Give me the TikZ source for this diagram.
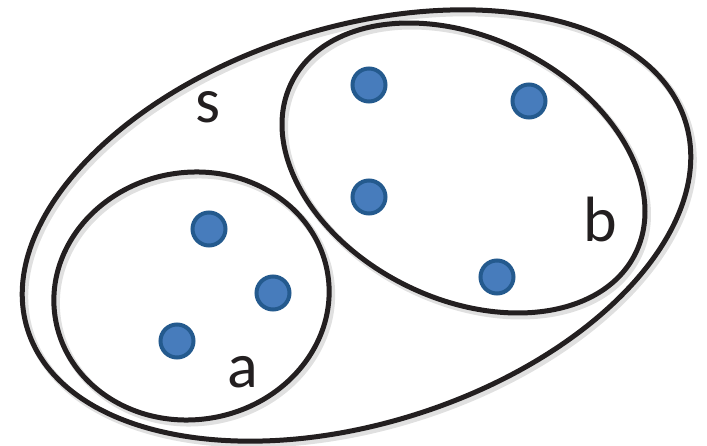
\documentclass[tikz,border=0pt]{standalone}
\usepackage{fontspec}
\setmainfont{Carlito}
\definecolor{ink}{HTML}{231F20}
\definecolor{dotfill}{HTML}{477CBC}
\definecolor{dotline}{HTML}{245A8E}
\begin{document}
\begin{tikzpicture}[x=1pt,y=-1pt,
  setline/.style={draw=ink,line width=5pt},
  setshadow/.style={draw=black!12,line width=7pt},
  elem/.style={circle,fill=dotfill,draw=dotline,line width=4pt,minimum size=33pt,inner sep=0pt},
  lbl/.style={font=\fontsize{64}{64}\selectfont,text=ink,inner sep=0pt,anchor=base}]
\useasboundingbox (0,0) rectangle (707,446);
% shadows
\begin{scope}[shift={(2.5,3)}]
\draw[setshadow,rotate around={17.6:(356.5,225.5)}] (356.5,225.5) ellipse [x radius=345, y radius=198];
\draw[setshadow,rotate around={9.4:(191.5,296)}] (191.5,296) ellipse [x radius=138, y radius=123.6];
\draw[setshadow,rotate around={-26.5:(463.5,168)}] (463.5,168) ellipse [x radius=192, y radius=130.7];
\end{scope}
% sets
\draw[setline,rotate around={17.6:(356.5,225.5)}] (356.5,225.5) ellipse [x radius=345, y radius=198];
\draw[setline,rotate around={9.4:(191.5,296)}] (191.5,296) ellipse [x radius=138, y radius=123.6];
\draw[setline,rotate around={-26.5:(463.5,168)}] (463.5,168) ellipse [x radius=192, y radius=130.7];
% elements
\node[elem] (a1) at (209,229) {};
\node[elem] (a2) at (273,293) {};
\node[elem] (a3) at (177,341) {};
\node[elem] (b1) at (369,85) {};
\node[elem] (b2) at (529,101) {};
\node[elem] (b3) at (369,197) {};
\node[elem] (b4) at (497,277) {};
% labels
\node[lbl] (ls) at (208,123) {s};
\node[lbl] (la) at (243,387) {a};
\node[lbl] (lb) at (600,242) {b};
\end{tikzpicture}
\end{document}
